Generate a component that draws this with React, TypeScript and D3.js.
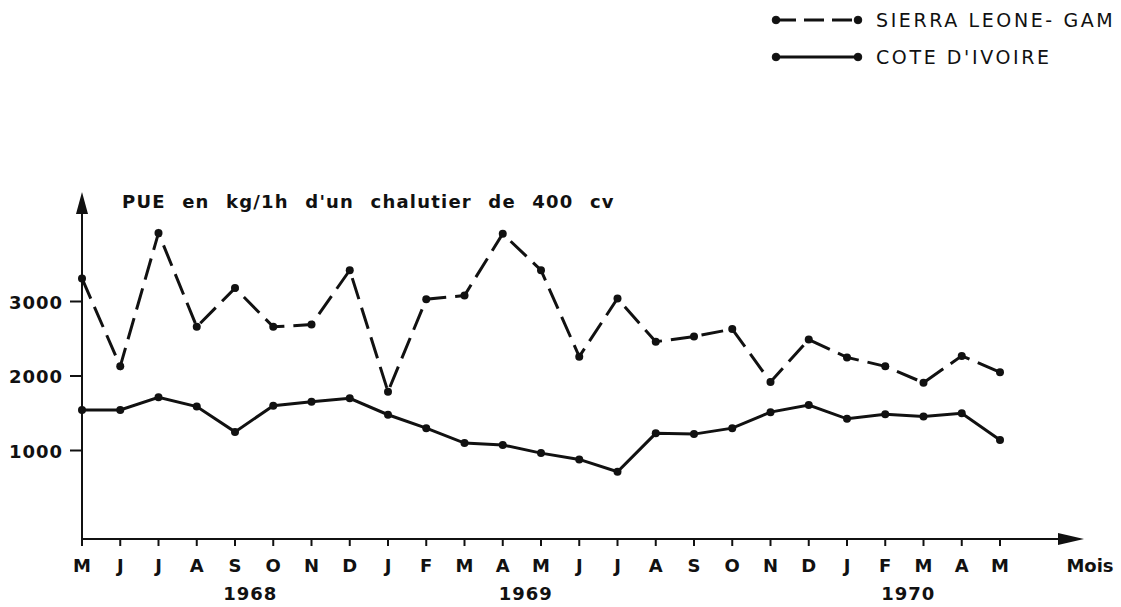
import React from 'react';
import * as d3 from 'd3';

// months May 1968 -> May 1970
const months = ['M', 'J', 'J', 'A', 'S', 'O', 'N', 'D', 'J', 'F', 'M', 'A', 'M', 'J', 'J', 'A', 'S', 'O', 'N', 'D', 'J', 'F', 'M', 'A', 'M'];
const sierraLeone = [3310, 2130, 3920, 2660, 3180, 2660, 2690, 3420, 1790, 3030, 3080, 3910, 3420, 2260, 3040, 2460, 2530, 2630, 1920, 2490, 2250, 2130, 1910, 2270, 2050];
const coteIvoire = [1545, 1545, 1715, 1590, 1250, 1600, 1655, 1700, 1480, 1300, 1100, 1075, 965, 880, 715, 1230, 1220, 1300, 1515, 1610, 1425, 1485, 1455, 1500, 1140];
const yTicks = [1000, 2000, 3000];
const years = ['1968', '1969', '1970'];
const yearAt = [4.4, 11.6, 21.6]; // month index under which the year sits
const legendNames = ['SIERRA LEONE- GAM', "COTE D'IVOIRE"];

const W = 1121;
const H = 607;
const FONT = '"DejaVu Sans", sans-serif';

export default function App() {
  const x = d3.scaleLinear().domain([0, months.length - 1]).range([82, 1000]);
  const y = d3.scaleLinear().domain([0, 4000]).range([525, 227]);
  const axisY = 539;
  const axisX = 82;

  const line = d3.line<number>().x((d, i) => x(i)).y(d => y(d));

  const dots = (data: number[]) =>
    data.map((d, i) => <circle key={i} cx={x(i)} cy={y(d)} r={4} fill="#111" />);

  return (
    <svg width={W} height={H} style={{ position: 'absolute', left: 0, top: 0, background: '#fff' }}>
      {/* legend */}
      <g fill="#111" stroke="#111">
        <line x1={776} x2={858} y1={20} y2={20} strokeWidth={3} strokeDasharray="20 8" />
        <circle cx={776} cy={20} r={3.8} />
        <circle cx={858} cy={20} r={3.8} />
        <line x1={776} x2={858} y1={57} y2={57} strokeWidth={3} />
        <circle cx={776} cy={57} r={3.8} />
        <circle cx={858} cy={57} r={3.8} />
      </g>
      {legendNames.map((n, i) => (
        <text key={n} x={876} y={27 + i * 37} fontFamily={FONT} fontSize={19} letterSpacing={2.6} fill="#111">{n}</text>
      ))}

      {/* axes */}
      <g stroke="#111" strokeWidth={2} fill="none">
        <line x1={axisX} x2={axisX} y1={axisY} y2={205} />
        <line x1={axisX} x2={1070} y1={axisY} y2={axisY} />
        {yTicks.map(t => <line key={t} x1={axisX - 12} x2={axisX} y1={y(t)} y2={y(t)} />)}
        {months.map((m, i) => <line key={i} x1={x(i)} x2={x(i)} y1={axisY} y2={axisY + 7} />)}
      </g>
      <path d={`M${axisX},192 L${axisX - 6},214 L${axisX + 6},214 Z`} fill="#111" />
      <path d={`M1084,${axisY} L1058,${axisY - 6} L1058,${axisY + 6} Z`} fill="#111" />

      {yTicks.map(t => (
        <text key={t} x={63} y={y(t) + 7} textAnchor="end" fontFamily={FONT} fontWeight="bold" fontSize={18} letterSpacing={1} fill="#111">{t}</text>
      ))}
      {months.map((m, i) => (
        <text key={i} x={x(i)} y={572} textAnchor="middle" fontFamily={FONT} fontWeight="bold" fontSize={18} fill="#111">{m}</text>
      ))}
      {years.map((yr, i) => (
        <text key={yr} x={x(yearAt[i])} y={600} textAnchor="middle" fontFamily={FONT} fontWeight="bold" fontSize={18} letterSpacing={1} fill="#111">{yr}</text>
      ))}
      <text x={1090} y={572} textAnchor="middle" fontFamily={FONT} fontWeight="bold" fontSize={18} fill="#111">Mois</text>

      <text x={122} y={208} fontFamily={FONT} fontWeight="bold" fontSize={18} letterSpacing={1.2} wordSpacing={9} fill="#111">
        PUE en kg/1h d'un chalutier de 400 cv
      </text>

      {/* series */}
      <path d={line(sierraLeone) ?? ''} fill="none" stroke="#111" strokeWidth={3} strokeDasharray="22 9" />
      {dots(sierraLeone)}
      <path d={line(coteIvoire) ?? ''} fill="none" stroke="#111" strokeWidth={3} />
      {dots(coteIvoire)}
    </svg>
  );
}
